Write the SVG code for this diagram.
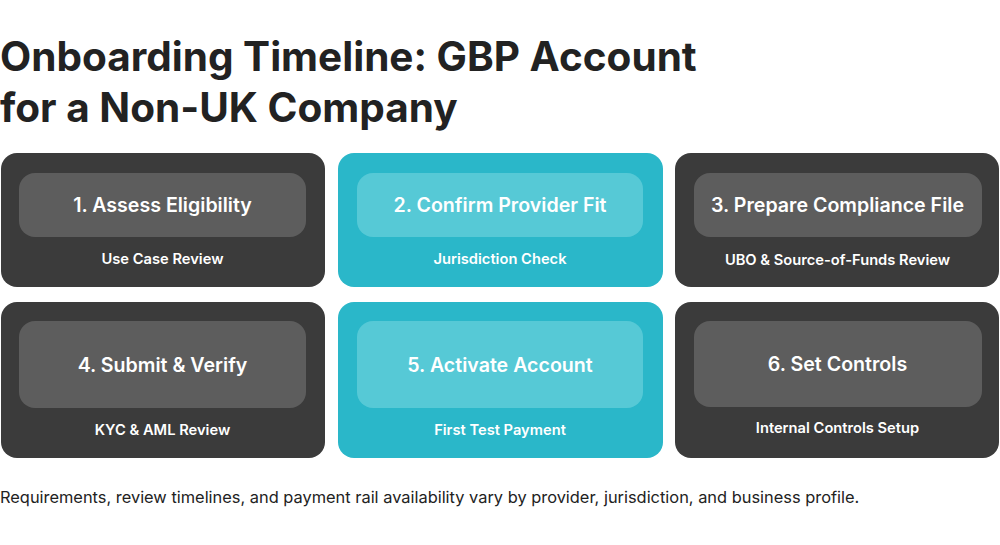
<svg xmlns="http://www.w3.org/2000/svg" width="1000" height="545" viewBox="0 0 1000 545">
<style>
.title{font-family:Inter,"Liberation Sans",sans-serif;font-weight:700;font-size:40.5px;fill:#222222}
.foot{font-family:Inter,"Liberation Sans",sans-serif;font-weight:400;font-size:16.4px;fill:#222222}
.card-dark{fill:#3b3b3b}
.pill-dark{fill:#5d5d5d}
.card-teal{fill:#2ab7c9}
.pill-teal{fill:#56c9d6}
.step{font-family:Inter,"Liberation Sans",sans-serif;font-weight:600;font-size:19.6px;fill:#ffffff;text-anchor:middle}
.sub{font-family:Inter,"Liberation Sans",sans-serif;font-weight:600;font-size:14.7px;fill:#ffffff;text-anchor:middle}
</style>
<rect width="1000" height="545" fill="#ffffff"/>
<text class="title" x="0" y="71">Onboarding Timeline: GBP Account</text>
<text class="title" x="0" y="122">for a Non-UK Company</text>
<g id="connectors"/>
<g id="step1">
<rect class="card-dark" x="1" y="153" width="324" height="134" rx="16"/>
<rect class="pill-dark" x="19" y="173" width="287" height="64" rx="16"/>
<text class="step" x="162.5" y="212">1. Assess Eligibility</text>
<text class="sub" x="162.5" y="264">Use Case Review</text>
</g>
<g id="step2">
<rect class="card-teal" x="338" y="153" width="325" height="134" rx="16"/>
<rect class="pill-teal" x="357" y="173" width="286" height="64" rx="16"/>
<text class="step" x="500" y="212">2. Confirm Provider Fit</text>
<text class="sub" x="500" y="264">Jurisdiction Check</text>
</g>
<g id="step3">
<rect class="card-dark" x="675" y="153" width="324" height="134" rx="16"/>
<rect class="pill-dark" x="694" y="173" width="288" height="64" rx="16"/>
<text class="step" x="837.5" y="212">3. Prepare Compliance File</text>
<text class="sub" x="837.5" y="265">UBO &amp; Source-of-Funds Review</text>
</g>
<g id="step4">
<rect class="card-dark" x="1" y="302" width="324" height="156" rx="16"/>
<rect class="pill-dark" x="19" y="321" width="287" height="87" rx="16"/>
<text class="step" x="162.5" y="372">4. Submit &amp; Verify</text>
<text class="sub" x="162.5" y="435">KYC &amp; AML Review</text>
</g>
<g id="step5">
<rect class="card-teal" x="338" y="302" width="325" height="156" rx="16"/>
<rect class="pill-teal" x="357" y="321" width="286" height="87" rx="16"/>
<text class="step" x="500" y="372">5. Activate Account</text>
<text class="sub" x="500" y="435">First Test Payment</text>
</g>
<g id="step6">
<rect class="card-dark" x="675" y="302" width="324" height="156" rx="16"/>
<rect class="pill-dark" x="694" y="321" width="288" height="86" rx="16"/>
<text class="step" x="837.5" y="371">6. Set Controls</text>
<text class="sub" x="837.5" y="433">Internal Controls Setup</text>
</g>
<text class="foot" x="0" y="503">Requirements, review timelines, and payment rail availability vary by provider, jurisdiction, and business profile.</text>
</svg>
